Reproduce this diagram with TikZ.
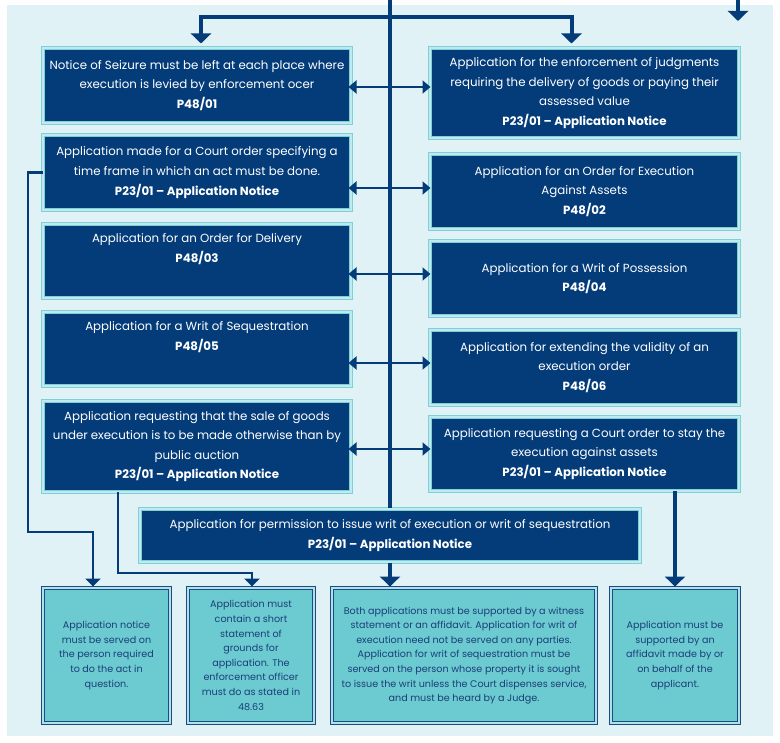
\documentclass[tikz,border=0pt]{standalone}
\usepackage{fontspec}
\setmainfont{Poppins}
\usepackage{xcolor}
\usetikzlibrary{arrows.meta,positioning,calc}
\definecolor{navy}{HTML}{043C7A}
\definecolor{panel}{HTML}{E1F2F6}
\definecolor{rim}{HTML}{7ED0D8}
\definecolor{rimin}{HTML}{C2EAEE}
\definecolor{note}{HTML}{6CCAD1}
\definecolor{noteline}{HTML}{1D4A82}
\definecolor{notetext}{HTML}{1B3F78}
\tikzset{
  appbox/.style={rectangle, fill=navy, draw=rim, line width=1pt, double=rimin, double distance=1.4pt,
    text=white, align=center, inner sep=0pt, font=\fontsize{11.8}{19.6}\selectfont},
  notebox/.style={rectangle, fill=note, draw=noteline, line width=0.9pt, double=note!55!white, double distance=1.4pt,
    text=notetext, align=center, inner sep=0pt, minimum height=135pt, font=\fontsize{9.6}{14.6}\selectfont},
  link/.style={navy, line width=2.8pt},
  trunk/.style={navy, line width=4pt},
  bigtip/.style={-{Triangle[width=20pt,length=10pt]}},
  midtip/.style={-{Triangle[width=15pt,length=8pt]}},
  both/.style={{Triangle[width=13pt,length=8pt]}-{Triangle[width=13pt,length=8pt]}},
}

\begin{document}
\begin{tikzpicture}[x=1pt,y=-1pt]
  \useasboundingbox (0,0) rectangle (780,743);
  \fill[white] (0,0) rectangle (780,743);
  \fill[panel] (7,5) rectangle (773,736);
  % left column
  \node[appbox, minimum width=308pt, minimum height=75pt] (L1) at (197,85.5)
    {Notice of Seizure must be left at each place where\\ execution is levied by enforcement ocer\\ \textbf{P48/01}};
  \node[appbox, minimum width=308pt, minimum height=75pt] (L2) at (197,172.5)
    {Application made for a Court order specifying a\\ time frame in which an act must be done.\\ \textbf{P23/01 – Application Notice}};
  \node[appbox, minimum width=308pt, minimum height=74pt] (L3) at (197,261)
    {Application for an Order for Delivery\\ \textbf{P48/03}\\ \strut};
  \node[appbox, minimum width=308pt, minimum height=74pt] (L4) at (197,349)
    {Application for a Writ of Sequestration\\ \textbf{P48/05}\\ \strut};
  \node[appbox, minimum width=308pt, minimum height=91pt] (L5) at (197,446.5)
    {Application requesting that the sale of goods\\ under execution is to be made otherwise than by\\ public auction\\ \textbf{P23/01 – Application Notice}};
  % right column
  \node[appbox, minimum width=309pt, minimum height=90pt] (R1) at (584.5,93)
    {Application for the enforcement of judgments\\ requiring the delivery of goods or paying their\\ assessed value\\ \textbf{P23/01 – Application Notice}};
  \node[appbox, minimum width=309pt, minimum height=75pt] (R2) at (584.5,191.5)
    {Application for an Order for Execution\\ Against Assets\\ \textbf{P48/02}};
  \node[appbox, minimum width=309pt, minimum height=75pt] (R3) at (584.5,278.5)
    {Application for a Writ of Possession\\ \textbf{P48/04}};
  \node[appbox, minimum width=309pt, minimum height=75pt] (R4) at (584.5,367.5)
    {Application for extending the validity of an\\ execution order\\ \textbf{P48/06}};
  \node[appbox, minimum width=309pt, minimum height=74pt] (R5) at (584.5,454)
    {Application requesting a Court order to stay the\\ execution against assets\\ \textbf{P23/01 – Application Notice}};
  % wide one
  \node[appbox, minimum width=500pt, minimum height=53pt] (W) at (390,535.5)
    {Application for permission to issue writ of execution or writ of sequestration\\ \textbf{P23/01 – Application Notice}};
  % notes at the bottom
  \node[notebox, minimum width=127pt] (B1) at (106.5,655.5)
    {Application notice\\ must be served on\\ the person required\\ to do the act in\\ question.};
  \node[notebox, minimum width=126pt] (B2) at (251,655.5)
    {Application must\\ contain a short\\ statement of\\ grounds for\\ application. The\\ enforcement officer\\ must do as stated in\\ 48.63};
  \node[notebox, minimum width=264pt] (B3) at (464,655.5)
    {Both applications must be supported by a witness\\ statement or an affidavit. Application for writ of\\ execution need not be served on any parties.\\ Application for writ of sequestration must be\\ served on the person whose property it is sought\\ to issue the writ unless the Court dispenses service,\\ and must be heard by a Judge.};
  \node[notebox, minimum width=128pt] (B4) at (675,655.5)
    {Application must be\\ supported by an\\ affidavit made by or\\ on behalf of the\\ applicant.};

  % trunk and top split
  \coordinate (top) at (390,0);
  \coordinate (split) at (390,17);
  \coordinate (offtop) at (738,0);
  \coordinate (offend) at (738,21);
  \draw[trunk] (top) -- (W.north);
  \draw[trunk,bigtip,shorten >=1pt] (W.south) -- (W.south |- B3.north);
  \draw[trunk,bigtip,shorten >=4pt] (split) -| ([xshift=4pt]L1.north);
  \draw[trunk,bigtip,shorten >=4pt] (split) -| ([xshift=-13pt]R1.north);
  \draw[trunk,bigtip] (offtop) -- (offend);
  % across the trunk
  \draw[link,both,shorten <=-3pt,shorten >=-1pt] (L1.east |- 0,87) -- (R1.west |- 0,87);
  \draw[link,both,shorten <=-3pt,shorten >=-1pt] (L2.east |- 0,188) -- (R2.west |- 0,188);
  \draw[link,both,shorten <=-3pt,shorten >=-1pt] (L3.east |- 0,274) -- (R3.west |- 0,274);
  \draw[link,both,shorten <=-3pt,shorten >=-1pt] (L4.east |- 0,363) -- (R4.west |- 0,363);
  \draw[link,both,shorten <=-3pt,shorten >=-1pt] (L5.east |- 0,449) -- (R5.west |- 0,449);
  % down to the notes
  \coordinate (lbend) at (28,532);
  \coordinate (ljog) at (118,573);
  \draw[link,midtip,shorten >=1pt] (L2.west) -| (lbend) -| ([xshift=-13.5pt]B1.north);
  \draw[link,midtip,shorten >=1pt] (L5.south -| ljog) -- (ljog) -| ([xshift=1pt]B2.north);
  \draw[trunk,bigtip,shorten >=1pt] (R5.south -| B4.north) -- (B4.north);
\end{tikzpicture}
\end{document}
